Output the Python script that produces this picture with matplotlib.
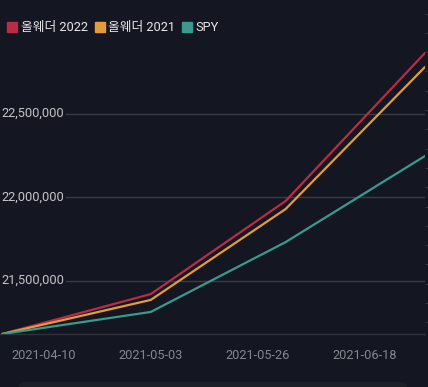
import matplotlib
matplotlib.use("Agg")
import matplotlib.pyplot as plt
import matplotlib.dates as mdates
from matplotlib.lines import Line2D
from matplotlib.patches import FancyBboxPatch
import pandas as pd

plt.rcParams['font.family'] = ['Roboto', 'Noto Sans CJK KR', 'DejaVu Sans']

# data
dates = pd.to_datetime(["2021-04-01", "2021-05-03", "2021-06-01", "2021-07-01"])
allweather_2022 = [21180000, 21419000, 21976000, 22863000]
allweather_2021 = [21180000, 21384000, 21928000, 22779000]
spy = [21180000, 21312000, 21730000, 22246000]
series_names = ["올웨더 2022", "올웨더 2021", "SPY"]
colors = ["#b82c45", "#e39b3c", "#3a9a8e"]
y_ticks = [21500000, 22000000, 22500000]
x_ticks = pd.to_datetime(["2021-04-10", "2021-05-03", "2021-05-26", "2021-06-18"])

bg = "#141621"
W, H = 428, 387
fig = plt.figure(figsize=(W / 100, H / 100), dpi=100, facecolor=bg)
ax = fig.add_axes([0, 1 - 334 / H, 425 / W, 334 / H], facecolor=bg)

for vals, c, name in zip([allweather_2022, allweather_2021, spy], colors, series_names):
    ax.plot(dates, vals, color=c, lw=1.6, label=name, solid_capstyle='round', zorder=3)

ax.set_xlim(mdates.date2num(dates[0]) - 0.43, mdates.date2num(dates[-1]))
ax.set_ylim(21180000, 23180000)

# grid lines with labels sitting on them
for v in y_ticks:
    ax.axhline(v, color="#3b3d46", lw=1, zorder=1)
    ax.text(0.004, v, f"{v:,}", transform=ax.get_yaxis_transform(), ha='left', va='center',
            fontsize=9.3, color="#c4c5c9", zorder=2,
            bbox=dict(boxstyle='square,pad=0.1', fc=bg, ec='none'))

ax.set_yticks([])
ax.set_xticks(x_ticks)
ax.xaxis.set_major_formatter(mdates.DateFormatter("%Y-%m-%d"))
ax.tick_params(axis='x', length=0, pad=11, labelsize=9.2, labelcolor="#85878f")
for s in ['top', 'right', 'left']:
    ax.spines[s].set_visible(False)
ax.spines['bottom'].set_color("#30323b")
ax.spines['bottom'].set_linewidth(1)

# faint ticks of a cut-off axis on the right edge
ax2 = ax.twinx()
ax2.set_ylim(-0.6, 16.7)
ax2.set_yticks(range(17))
ax2.tick_params(axis='y', length=2.5, width=0.7, color="#363841", labelright=False)
for s in ax2.spines.values():
    s.set_visible(False)

# legend
handles = [Line2D([], [], marker='s', ls='none', markersize=7.3, color=c) for c in colors]
fig.legend(handles, series_names, loc='upper left', bbox_to_anchor=(8 / W, 1 - 21 / H),
           ncol=3, frameon=False, fontsize=9.2, labelcolor="#e8e8ea",
           handlelength=0.7, handletextpad=0.3, columnspacing=0.6, borderpad=0,
           borderaxespad=0)

# top of the next panel peeking in at the bottom
fig.patches.append(FancyBboxPatch((18 / W, -20 / H), 390 / W, 25 / H,
                                  boxstyle='round,pad=0,rounding_size=0.02',
                                  transform=fig.transFigure, fc="#1c1e28", ec='none'))

fig.savefig("out.png", dpi=100, facecolor=bg)
